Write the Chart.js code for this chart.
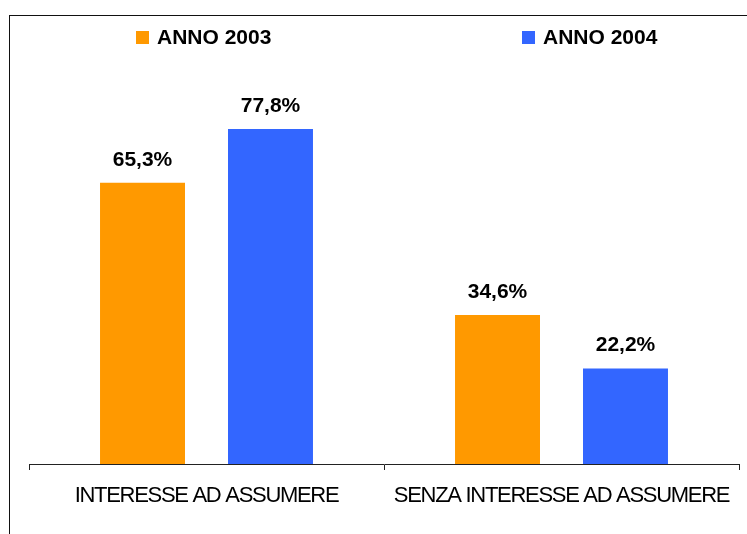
<!DOCTYPE html>
<html>
<head>
<meta charset="utf-8">
<script src="https://cdn.jsdelivr.net/npm/chart.js@4/dist/chart.umd.min.js"></script>
<style>
  body { margin: 0; background: #fff; }
  #wrap { position: relative; width: 747px; height: 534px; }
  #frame { position: absolute; left: 9px; top: 15px; right: 0; bottom: 0;
           border-left: 1px solid #111; border-top: 1px solid #111; pointer-events: none; }
  canvas { position: absolute; left: 0; top: 0; }
</style>
</head>
<body>
<div id="wrap">
  <canvas id="myChart" width="747" height="534"></canvas>
  <div id="frame"></div>
</div>
<script>
var categories = ['INTERESSE AD ASSUMERE', 'SENZA INTERESSE AD ASSUMERE'];
var seriesNames = ['ANNO 2003', 'ANNO 2004'];
var anno2003 = [65.3, 34.6];
var anno2004 = [77.8, 22.2];
var colors = ['#FF9900', '#3366FF'];

function fmt(v) {
    return v.toFixed(1).replace('.', ',') + '%';
}

// tighter letters on the axis labels, like the original
var spacingPlugin = {
    id: 'spacing',
    beforeDraw: function(chart) { chart.ctx.letterSpacing = '-1.3px'; },
    beforeDatasetsDraw: function(chart) { chart.ctx.letterSpacing = '0px'; }
};

var labelsPlugin = {
    id: 'valueLabels',
    afterDatasetsDraw: function(chart) {
        var ctx = chart.ctx;
        ctx.save();
        ctx.letterSpacing = '0px';
        ctx.font = 'bold 21px "Liberation Sans", Arial, sans-serif';
        ctx.fillStyle = '#000';
        ctx.textAlign = 'center';
        ctx.textBaseline = 'alphabetic';
        chart.data.datasets.forEach(function(ds, i) {
            chart.getDatasetMeta(i).data.forEach(function(bar, j) {
                ctx.fillText(fmt(ds.data[j]), bar.x, bar.y - 17);
            });
        });
        ctx.restore();
    }
};

var legendPlugin = {
    id: 'topLegend',
    afterDraw: function(chart) {
        var ctx = chart.ctx;
        var xs = [136, 522];
        ctx.save();
        ctx.letterSpacing = '0px';
        ctx.font = 'bold 21px "Liberation Sans", Arial, sans-serif';
        ctx.textBaseline = 'middle';
        ctx.textAlign = 'left';
        chart.data.datasets.forEach(function(ds, i) {
            ctx.fillStyle = ds.backgroundColor;
            ctx.fillRect(xs[i], 31, 13, 13);
            ctx.fillStyle = '#000';
            ctx.fillText(ds.label, xs[i] + 21, 38);
        });
        ctx.restore();
    }
};

var ctx = document.getElementById('myChart').getContext('2d');
var chart = new Chart(ctx, {
    type: 'bar',
    data: {
        labels: categories,
        datasets: [{
            label: seriesNames[0],
            backgroundColor: colors[0],
            data: anno2003
        }, {
            label: seriesNames[1],
            backgroundColor: colors[1],
            data: anno2004
        }]
    },
    options: {
        responsive: false,
        devicePixelRatio: 1,
        animation: false,
        categoryPercentage: 0.721,
        barPercentage: 0.664,
        layout: { padding: { top: 76.5, left: 29, right: 8, bottom: 15 } },
        plugins: {
            legend: { display: false },
            tooltip: { enabled: false }
        },
        scales: {
            x: {
                afterFit: function(scale) {
                    scale.paddingLeft = 0;
                    scale.paddingRight = 0;
                    scale.height = 55;
                },
                grid: { drawOnChartArea: false, drawTicks: true, tickLength: 6, color: '#222' },
                border: { display: true, color: '#222', width: 1 },
                ticks: {
                    color: '#000',
                    padding: 13,
                    maxRotation: 0,
                    autoSkip: false,
                    font: { family: '"Liberation Sans", Arial, sans-serif', size: 22 }
                }
            },
            y: {
                display: false,
                min: 0,
                max: 90
            }
        }
    },
    plugins: [spacingPlugin, labelsPlugin, legendPlugin]
});
</script>
</body>
</html>
